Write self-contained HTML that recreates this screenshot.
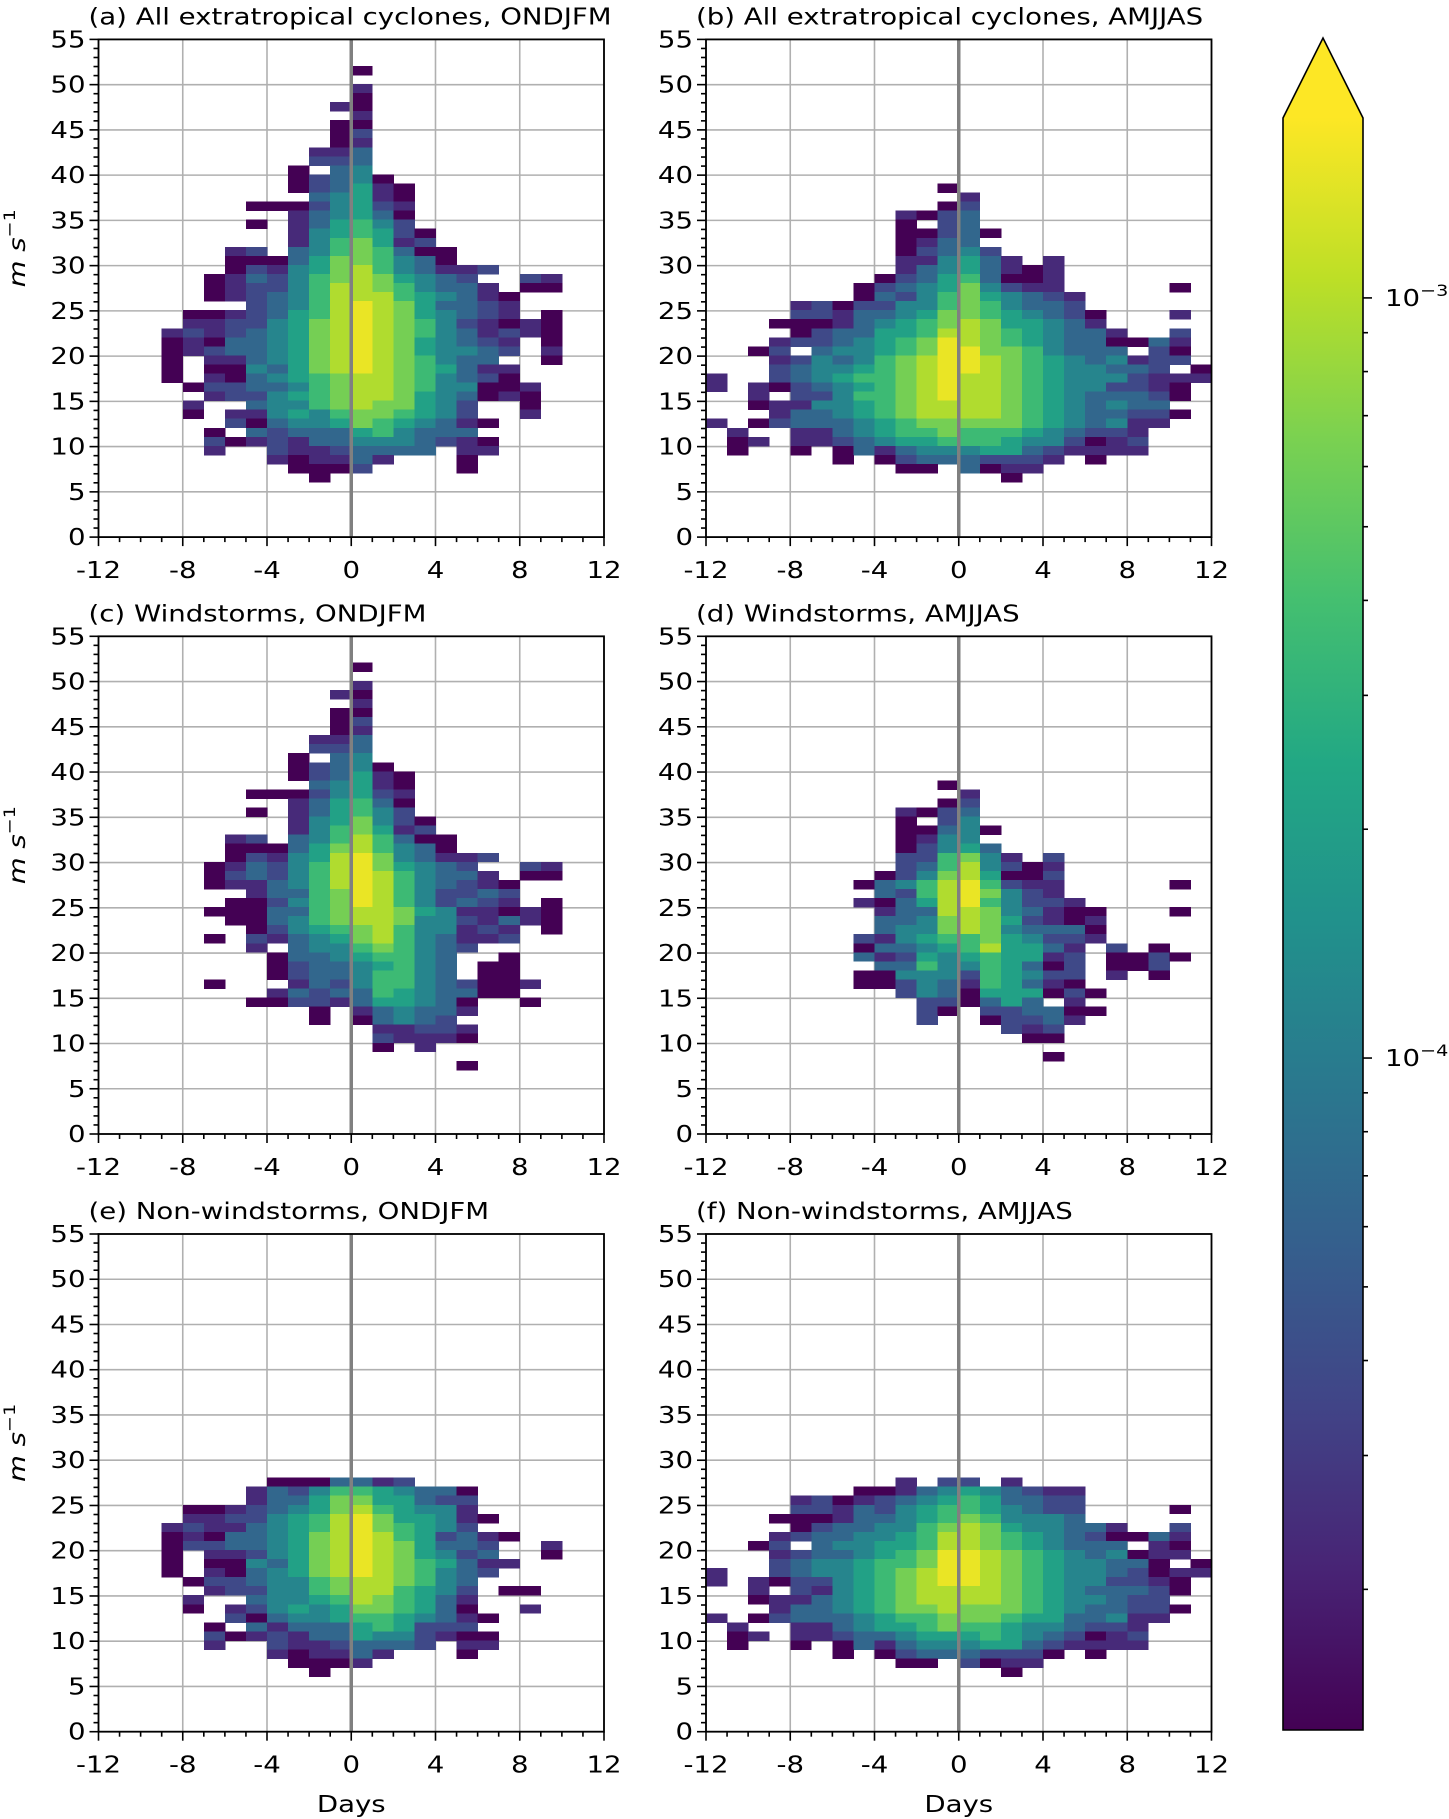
<!DOCTYPE html>
<html><head><meta charset="utf-8"><style>
html,body{margin:0;padding:0;background:#fff;}
svg{display:block;font-family:"DejaVu Sans","Liberation Sans",sans-serif;}
</style></head><body>
<svg id="fig" width="1449" height="1819" viewBox="0 0 1449 1819" xmlns="http://www.w3.org/2000/svg">
<defs>
<linearGradient id="vir" x1="0" y1="1" x2="0" y2="0">
<stop offset="0" stop-color="#440154"/><stop offset="0.1" stop-color="#482475"/><stop offset="0.2" stop-color="#414487"/><stop offset="0.3" stop-color="#355f8d"/><stop offset="0.4" stop-color="#2a788e"/><stop offset="0.5" stop-color="#21918c"/><stop offset="0.6" stop-color="#22a884"/><stop offset="0.7" stop-color="#44bf70"/><stop offset="0.8" stop-color="#7ad151"/><stop offset="0.9" stop-color="#bddf26"/><stop offset="1" stop-color="#fde725"/>
</linearGradient>
</defs>
<g id="panels"></g>
<g id="cbar">
<rect x="1283" y="117" width="80" height="1613" fill="url(#vir)"/>
<polygon points="1283,118 1323,38 1363,118" fill="#fde725"/>
<polygon points="1283,1730 1283,118 1323,38 1363,118 1363,1730" fill="none" stroke="#000" stroke-width="1.6"/>
</g>
</svg>
<script>
// ---- data: histogram levels (0 = lowest density .. 9 = highest), one string per 1 m/s bin, top row first ----
const dayEdgesMin = -12;
const levelFraction = [0.0, 0.12, 0.22, 0.33, 0.45, 0.57, 0.68, 0.79, 0.88, 0.97];
const cbarTickLabels = ["10", "10"];
const cbarTickExps = ["\u22123", "\u22124"];
const cbarTickValues = [1e-3, 1e-4];
const cbarLogMin = -4.884, cbarLogMax = -2.762;
const yTicks = [0,5,10,15,20,25,30,35,40,45,50,55];
const xTicks = [-12,-8,-4,0,4,8,12];

const panelATop = 51, panelAFirstDay = -9;
const panelA = [
".........0.........",
"...................",
".........1.........",
".........0.........",
"........10.........",
".........1.........",
"........00.........",
"........02.........",
"........01.........",
".......113.........",
".......223.........",
"......0.34.........",
"......02340........",
"......023510.......",
".......34510.......",
"....00024521.......",
"......134530.......",
"....0.135642.......",
"......1456520......",
"......1467512......",
"...12.34676300.....",
"...00035776430.....",
"...0214578643112...",
"..0132467875432..21",
"..01224688764331.00",
"..012346888654310..",
"....2346898753321..",
".0012356898754321.0",
".112245789876421010",
"1212345789876431210",
"01033457898754321.0",
"01233457898754432.1",
"0.11345789876433..0",
"0.004357898765311..",
"0.103456788764320..",
".02233467887644001.",
"..1224567887543010.",
".1..34467877542..0.",
".0.114546776542..1.",
"...2034457654310...",
"..0.32333564333....",
"..20121334443210...",
"..1..21123333.11...",
".....101131...0....",
"......0002....0....",
".......0..........."
];

const panelBTop = 38, panelBFirstDay = -12;
const panelB = [
"...........0............",
"............1...........",
"...........02...........",
".........1023...........",
".........0.23...........",
".........00230..........",
".........0133...........",
".........02342..........",
".........114531.1.......",
".........13453101.......",
"........023563001.......",
".......0234574211.....0.",
".......03246754321......",
"....12022446764332......",
"....221334577654320...1.",
"...0001345678755431.....",
"....0233556887654331..2.",
"...12234567987654330031.",
"..02.344567997764333.20.",
"...12434678998765434122.",
"...2344567899876544332.0",
"1..234566789887654442111",
"1.102345678988765442210.",
"..1.2246678988765433320.",
"..01144567888876543433..",
"...13345678888765433220.",
"1.02333456777776543411..",
".1..11345667666543221...",
".01.11234556665442012...",
".0..0.031344455321111...",
"......0.023332221.0.....",
".........00.3011........",
"..............0........."
];

const panelCTop = 51, panelCFirstDay = -12;
const panelC = [
"............0...........",
"........................",
"............1...........",
"...........10...........",
"............1...........",
"...........00...........",
"...........02...........",
"...........01...........",
"..........113...........",
"..........223...........",
".........0.34...........",
".........02340..........",
".........023510.........",
"..........34510.........",
".......00024521.........",
".........135630.........",
".......0.135642.........",
".........1457420........",
".........1467512........",
"......12.34686300.......",
"......00035786430.......",
"......0214589743112.....",
".....0132468975432..21..",
".....02324689864331.00..",
".....011346898643210....",
".......1336798642232....",
"......00246798642321.0..",
".....00033678875411010..",
"......0034678874421310..",
".......0245678644121.0..",
".....0.2134578643112....",
".......1.344676432......",
"........033456643..0....",
"........023345643.00....",
"........023346643.00....",
".....0...132466432001...",
"........132336543300....",
".......00221355430..0...",
"..........0.134331......",
"..........0.03432.......",
".............11221......",
".............21110......",
".............0.1........",
"........................",
".................0......"
];

const panelDTop = 38, panelDFirstDay = -12;
const panelD = [
"...........0............",
"............1...........",
"...........02...........",
".........1023...........",
".........0.24...........",
".........00340..........",
".........0144...........",
".........02453..........",
".........226741.2.......",
".........23684201.......",
"........024785002.......",
".......0346896211.....0.",
"........326897421.......",
".......10358964221......",
"........13388743100...0.",
"........33478752101.....",
"........34478743330.....",
".......214566754221.....",
".......03345685531.2.0..",
".......31254565512.0020.",
"........3364465302.002..",
".......00444265422.1.0..",
".......00243165310......",
".........2430555020.....",
"..........220353.1......",
"..........20.223300.....",
"..........2..02231......",
"..............212.......",
"...............00.......",
"........................",
"................0......."
];

const panelETop = 27, panelEFirstDay = -12;
const panelE = [
"........0003312.........",
".......13246654330......",
".......13357755322......",
"....00123457865441......",
"....112245689755410.....",
"...121134568976542......",
"...01033457898652310....",
"...0223345789875332..1..",
"...0.11245789875423..0..",
"...0.004357898765311....",
"...0.10345789876432.....",
"....02234467887643......",
".....1224467886542.00...",
"....1..34456876531......",
"....0.124545776530..1...",
"......2034456654310.....",
".....0.31333565222......",
".....20121335442100.....",
".....1..21123332.11.....",
"........101131...0......",
".........0001...........",
"..........0............."
];

const panelFTop = 27, panelFFirstDay = -12;
const panelF = [
".........1.22.1.........",
".......00134543211......",
"....12012345653322......",
"....22132456654322....0.",
"...000133456764443......",
"....0233446787544331..2.",
"...12334456887654320031.",
"..02.344556887654333.10.",
"...12334567998765434011.",
"...2344566799876544330.0",
"1..234456789987654432011",
"1.102245678998765442210.",
"..1.2145678888765433320.",
"..01134567888876544322..",
"...13345677877765433220.",
"1.02333456677765533411..",
".1..11345567665443221...",
".01.11233455565432012...",
".0..0.031344455321111...",
"......0.023332220.0.....",
".........00.2011........",
"..............0........."
];

const panelTitles = ["(a) All extratropical cyclones, ONDJFM","(b) All extratropical cyclones, AMJJAS","(c) Windstorms, ONDJFM","(d) Windstorms, AMJJAS","(e) Non-windstorms, ONDJFM","(f) Non-windstorms, AMJJAS"];

// ---- layout ----
const NS = "http://www.w3.org/2000/svg";
const W = 505.5, H = 497.7, binOffset = 0.08;
const SX = 1.2; // horizontal text widening to match reference glyph widths
const colX = [98.5, 706];
const rowY = [39.4, 636.3, 1234.0];
const panels = [
 {rows: panelA, top: panelATop, first: panelAFirstDay, c: 0, r: 0, key: "a"},
 {rows: panelB, top: panelBTop, first: panelBFirstDay, c: 1, r: 0, key: "b"},
 {rows: panelC, top: panelCTop, first: panelCFirstDay, c: 0, r: 1, key: "c"},
 {rows: panelD, top: panelDTop, first: panelDFirstDay, c: 1, r: 1, key: "d"},
 {rows: panelE, top: panelETop, first: panelEFirstDay, c: 0, r: 2, key: "e"},
 {rows: panelF, top: panelFTop, first: panelFFirstDay, c: 1, r: 2, key: "f"}
];
const vStops = ["#440154","#482475","#414487","#355f8d","#2a788e","#21918c","#22a884","#44bf70","#7ad151","#bddf26","#fde725"];
function hex(c){return [parseInt(c.substr(1,2),16),parseInt(c.substr(3,2),16),parseInt(c.substr(5,2),16)];}
function viridis(t){
  t = Math.max(0, Math.min(1, t));
  const s = t*10, i = Math.min(9, Math.floor(s)), f = s - i;
  const a = hex(vStops[i]), b = hex(vStops[i+1]);
  return "rgb(" + a.map((v,k)=>Math.round(v + (b[k]-v)*f)).join(",") + ")";
}
function mk(tag, attrs, parent){
  const e = document.createElementNS(NS, tag);
  for (const k in attrs) e.setAttribute(k, attrs[k]);
  parent.appendChild(e);
  return e;
}
function txt(parent, x, y, extra){
  const a = Object.assign({x: 0, y: 0, transform: "translate(" + x + "," + y + ") scale(" + SX + ",1)"}, extra || {});
  return mk("text", a, parent);
}
const root = document.getElementById("panels");

panels.forEach((p, pi) => {
  const x0 = colX[p.c], y0 = rowY[p.r];
  const xs = d => x0 + (d + 12) / 24 * W;
  const ys = v => y0 + H - v / 55 * H;
  const g = mk("g", {}, root);
  
  
  const grid = mk("g", {stroke: "#b0b0b0", "stroke-width": "1.6"}, g);
  
  
  xTicks.forEach(t => mk("line", {x1: xs(t), x2: xs(t), y1: y0, y2: y0 + H}, grid));
  yTicks.forEach(t => mk("line", {x1: x0, x2: x0 + W, y1: ys(t), y2: ys(t)}, grid));
  const cells = mk("g", {"shape-rendering": "crispEdges"}, g);
  
  
  p.rows.forEach((row, ri) => {
    const v = p.top - ri;
    for (let j = 0; j < row.length; j++) {
      const ch = row[j];
      if (ch === ".") continue;
      const d = p.first + j;
      const lev = parseInt(ch, 10);
      const xa = xs(d), xb = xs(d + 1), ya = ys(v + binOffset + 1), yb = ys(v + binOffset);
      const r = mk("rect", {x: xa.toFixed(2), y: ya.toFixed(2), width: (xb - xa + 0.4).toFixed(2), height: (yb - ya + 0.4).toFixed(2), fill: viridis(levelFraction[lev])}, cells);
      
      
    }
  });
  const zl = mk("line", {x1: xs(0), x2: xs(0), y1: y0, y2: y0 + H, stroke: "#808080", "stroke-width": "3.5"}, g);
  
  
  const fr = mk("rect", {x: x0, y: y0, width: W, height: H, fill: "none", stroke: "#000", "stroke-width": "1.8"}, g);
  
  
  const tk = mk("g", {stroke: "#000", "stroke-width": "1.6"}, g);
  
  
  for (let v = 0; v <= 55; v++) {
    const L = (v % 5 === 0) ? 9 : 5;
    mk("line", {x1: x0 - L, x2: x0, y1: ys(v), y2: ys(v)}, tk);
  }
  for (let d = -12; d <= 12; d++) {
    const L = (d % 4 === 0) ? 9 : 5;
    mk("line", {x1: xs(d), x2: xs(d), y1: y0 + H, y2: y0 + H + L}, tk);
  }
  const yl = mk("g", {"font-size": "23", "text-anchor": "end", fill: "#000"}, g);
  
  
  yTicks.forEach(t => { const e = txt(yl, x0 - 13, ys(t) + 8); e.textContent = t; });
  const xl = mk("g", {"font-size": "23", "text-anchor": "middle", fill: "#000"}, g);
  
  
  xTicks.forEach(t => { const e = txt(xl, xs(t), y0 + H + 41); e.textContent = t; });
  const ti = txt(g, x0 - 10, y0 - 15, {"font-size": "23", fill: "#000"});
  
  
  ti.textContent = panelTitles[pi];
  if (p.c === 0) {
    const cy = y0 + H / 2 - 40;
    const yt = mk("text", {x: 0, y: 0, "font-size": "23", "text-anchor": "middle", transform: "translate(25," + cy + ") rotate(-90) scale(" + SX + ",1)"}, g);
    
    
    yt.innerHTML = '<tspan font-style="italic">m s</tspan><tspan dy="-10" font-size="16">\u22121</tspan>';
  }
  if (p.r === 2) {
    const xt = txt(g, x0 + W / 2, 1812, {"font-size": "23", "text-anchor": "middle"});
    
    
    xt.textContent = "Days";
  }
});

const cb = document.getElementById("cbar");
const cbTop = 117, cbBot = 1730;
const cbY = val => cbBot - (Math.log10(val) - cbarLogMin) / (cbarLogMax - cbarLogMin) * (cbBot - cbTop);
const cbt = mk("g", {stroke: "#000", "stroke-width": "1.6"}, cb);


[-5, -4, -3].forEach(e => {
  for (let m = 1; m <= 9; m++) {
    const val = m * Math.pow(10, e);
    const y = cbY(val);
    if (y < cbTop || y > cbBot) continue;
    mk("line", {x1: 1363, x2: 1363 + (m === 1 ? 9 : 5), y1: y, y2: y}, cbt);
  }
});
cbarTickValues.forEach((val, i) => {
  const t = txt(cb, 1385, cbY(val) + 8, {"font-size": "23", fill: "#000"});
  
  
  t.innerHTML = cbarTickLabels[i] + '<tspan dy="-10" font-size="16">' + cbarTickExps[i] + '</tspan>';
});
</script>
</body></html>
